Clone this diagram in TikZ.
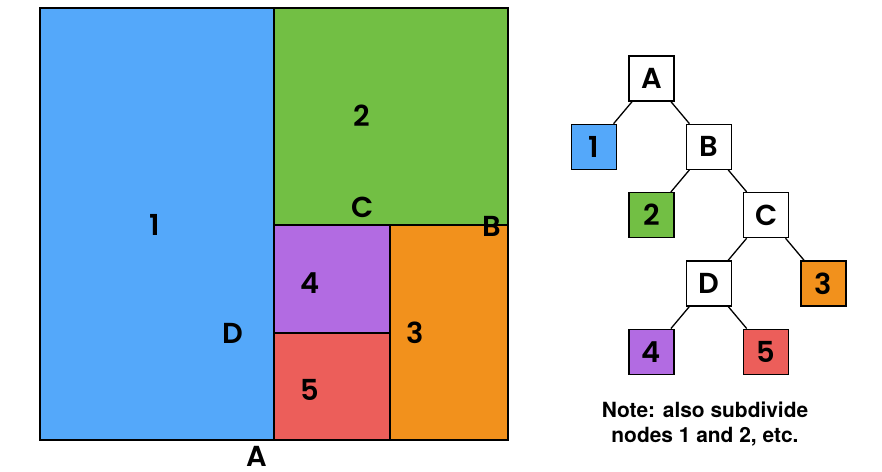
\documentclass[tikz,border=0pt]{standalone}
\usepackage{fontspec}
\setmainfont{TeX Gyre Heros}
\newfontfamily\labelfont{Poppins}[UprightFont = * SemiBold, BoldFont = * SemiBold]
\usetikzlibrary{positioning}
\definecolor{myblue}{RGB}{84, 168, 250}
\definecolor{mygreen}{RGB}{114, 191, 68}
\definecolor{mypurple}{RGB}{178, 107, 226}
\definecolor{myred}{RGB}{236, 94, 90}
\definecolor{myorange}{RGB}{242, 145, 28}

\begin{document}
\begin{tikzpicture}[x = 1bp, y = -1bp, node distance = 22bp and 11bp, line width = 1.3bp,
  treebox/.style={draw = black, fill = white, minimum size = 45bp, inner sep = 0pt, font = \labelfont\fontsize{29}{29}\selectfont},
  tag/.style={inner sep = 0pt, font = \labelfont\fontsize{29}{29}\selectfont}]
  \useasboundingbox (0,0) rectangle (882,472);

  % regions
  \filldraw[fill = myblue] (40,8) rectangle (274,440);
  \filldraw[fill = mygreen] (274,8) rectangle (508,225);
  \filldraw[fill = mypurple] (274,225) rectangle (390,333);
  \filldraw[fill = myred] (274,333) rectangle (390,440);
  \filldraw[fill = myorange] (390,225) rectangle (508,440);

  % region labels
  \node [tag] (cell-1) at (155,225) {1};
  \node [tag] (cell-2) at (362,116) {2};
  \node [tag] (cell-3) at (415,333) {3};
  \node [tag] (cell-4) at (310,283) {4};
  \node [tag] (cell-5) at (310,390) {5};
  \node [tag] (cut-a) at (257,456) {A};
  \node [tag] (cut-b) at (492,226) {B};
  \node [tag] (cut-c) at (363,207) {C};
  \node [tag] (cut-d) at (233,333) {D};

  % tree nodes
  \node [treebox] (tree-a) at (651.5,78.5) {A};
  \node [treebox, fill = myblue] [below left = of tree-a] (tree-1) {1};
  \node [treebox] [below right = of tree-a] (tree-b) {B};
  \node [treebox, fill = mygreen] [below left = of tree-b] (tree-2) {2};
  \node [treebox] [below right = of tree-b] (tree-c) {C};
  \node [treebox] [below left = of tree-c] (tree-d) {D};
  \node [treebox, fill = myorange] [below right = of tree-c] (tree-3) {3};
  \node [treebox, fill = mypurple] [below left = of tree-d] (tree-4) {4};
  \node [treebox, fill = myred] [below right = of tree-d] (tree-5) {5};

  % tree edges
  \draw (tree-a) -- (tree-1);
  \draw (tree-a) -- (tree-b);
  \draw (tree-b) -- (tree-2);
  \draw (tree-b) -- (tree-c);
  \draw (tree-c) -- (tree-d);
  \draw (tree-c) -- (tree-3);
  \draw (tree-d) -- (tree-4);
  \draw (tree-d) -- (tree-5);

  % note
  \node [align = center, font = \bfseries\fontsize{21}{25}\selectfont] (note) at (705,424) {Note: also subdivide\\nodes 1 and 2, etc.};
\end{tikzpicture}
\end{document}
